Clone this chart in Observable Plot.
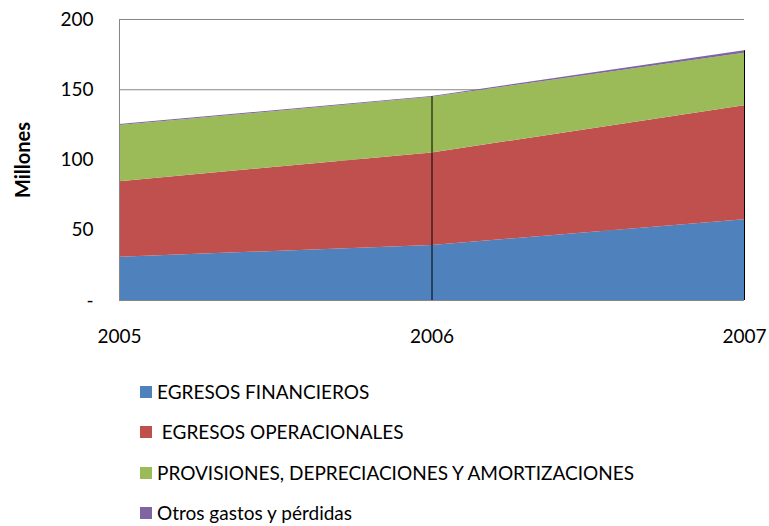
<!DOCTYPE html>
<html><head><meta charset="utf-8">
<script src="https://cdn.jsdelivr.net/npm/d3@7"></script>
<script src="https://cdn.jsdelivr.net/npm/@observablehq/plot@0.6"></script>
<style>
body{margin:0;background:#fff;font-family:Lato,sans-serif}
#wrap{position:relative;width:769px;height:526px;overflow:hidden}
#chart svg{display:block}
.legend{position:absolute;left:140px;top:372px}
.item{display:flex;align-items:center;height:40.3px;font-size:19px;line-height:20px;color:#000;white-space:pre}
.sw{width:12px;height:12px;margin-right:5px;flex:none}
</style></head><body><div id="wrap"><div id="chart"></div><div class="legend" id="legend"></div></div>
<script>
const years = [2005, 2006, 2007];
const seriesNames = ["EGRESOS FINANCIEROS", " EGRESOS OPERACIONALES", "PROVISIONES, DEPRECIACIONES Y AMORTIZACIONES", "Otros gastos y pérdidas"];
const financieros = [30.8, 39.1, 57.4];
const operacionales = [53.8, 65.9, 81.3];
const provisiones = [39.9, 39.6, 37.2];
const otros = [0.7, 0.6, 1.9];
const colors = ["#4F81BD", "#C0504D", "#9BBB59", "#8064A2"];
const yTicks = [0, 50, 100, 150, 200];
const yTickLabels = ["-", "50", "100", "150", "200"];

const seriesValues = [financieros, operacionales, provisiones, otros];
const data = [];
seriesNames.forEach((s, si) => years.forEach((y, i) => data.push({year: y, series: s, value: seriesValues[si][i]})));
const totals = years.map((y, i) => ({year: y, total: d3.sum(seriesValues, v => v[i])}));

const chart = Plot.plot({
  width: 769, height: 360,
  marginLeft: 119, marginRight: 25, marginTop: 19, marginBottom: 60,
  style: {fontFamily: "Lato, sans-serif", fontSize: "19px", color: "#000", background: "#fff"},
  x: {domain: [2005, 2007], ticks: years, tickFormat: d => String(d), tickSize: 0, tickPadding: 29, label: null},
  y: {domain: [0, 200], ticks: yTicks, tickFormat: (d, i) => yTickLabels[yTicks.indexOf(d)], tickSize: 0, tickPadding: 26, label: "Millones", labelAnchor: "center", labelArrow: "none", labelOffset: 104},
  color: {domain: seriesNames, range: colors},
  marks: [
    Plot.ruleY(yTicks.slice(1), {stroke: "#868686", strokeWidth: 1}),
    Plot.areaY(data, {x: "year", y: "value", fill: "series", z: "series"}),
    Plot.ruleX(totals.slice(1), {x: "year", y1: 0, y2: "total", stroke: "#000", strokeWidth: 1}),
    Plot.ruleX([2005], {y1: 0, y2: 200, stroke: "#868686"}),
    Plot.ruleY([0], {stroke: "#868686"})
  ]
});
document.getElementById("chart").appendChild(chart);
chart.querySelectorAll('[aria-label="y-axis label"] text').forEach(t => {t.style.fontWeight = "bold"; t.style.fontSize = "20px";});

const legend = document.getElementById("legend");
seriesNames.forEach((s, i) => {
  const it = document.createElement("div"); it.className = "item";
  const sw = document.createElement("span"); sw.className = "sw"; sw.style.background = colors[i];
  const tx = document.createElement("span"); tx.textContent = s;
  it.appendChild(sw); it.appendChild(tx); legend.appendChild(it);
});
</script></body></html>
